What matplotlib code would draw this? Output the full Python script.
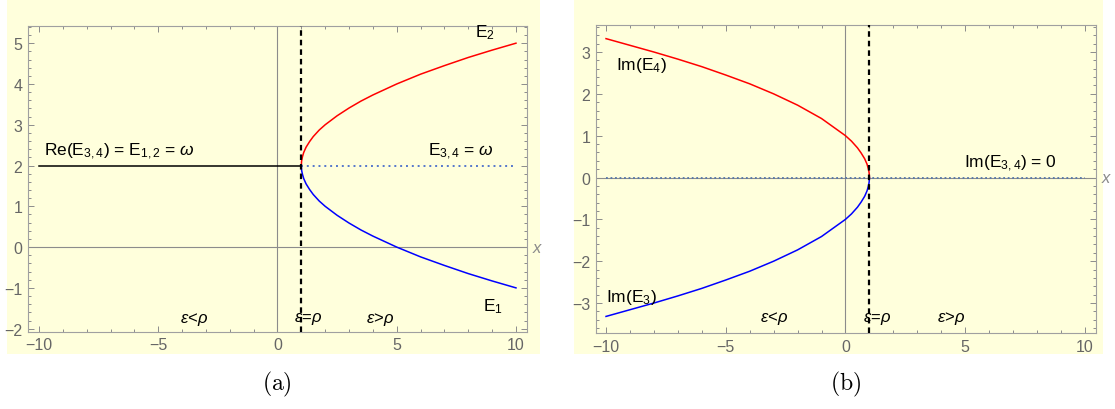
import numpy as np
import matplotlib.pyplot as plt
from matplotlib.patches import Rectangle
from matplotlib.ticker import MultipleLocator

plt.rcParams['font.family'] = ['Liberation Sans', 'DejaVu Sans']
plt.rcParams['mathtext.fontset'] = 'custom'
plt.rcParams['mathtext.rm'] = 'Liberation Sans'
plt.rcParams['mathtext.it'] = 'Liberation Sans:italic'
plt.rcParams['mathtext.fallback'] = 'cm'

x_left = [-10, 1]
re_left = [2, 2]
x_split = [1, 1.01, 1.02, 1.05, 1.1, 1.2, 1.35, 1.5, 1.75, 2, 2.5, 3, 3.5, 4, 5, 6, 7, 8, 9, 10]
e2 = [2, 2.10, 2.14, 2.22, 2.32, 2.45, 2.59, 2.71, 2.87, 3.0, 3.22, 3.41, 3.58, 3.73, 4.0, 4.24, 4.45, 4.65, 4.83, 5.0]
e1 = [2, 1.90, 1.86, 1.78, 1.68, 1.55, 1.41, 1.29, 1.13, 1.0, 0.78, 0.59, 0.42, 0.27, 0.0, -0.24, -0.45, -0.65, -0.83, -1.0]
x_dot_a = [1, 10]
e34 = [2, 2]

# panel (b): imaginary parts
x_im = [-10, -9, -8, -7, -6, -5, -4, -3, -2, -1, 0, 0.25, 0.5, 0.65, 0.8, 0.9, 0.95, 0.98, 0.99, 1]
im_e4 = [3.32, 3.16, 3.0, 2.83, 2.65, 2.45, 2.24, 2.0, 1.73, 1.41, 1.0, 0.87, 0.71, 0.59, 0.45, 0.32, 0.22, 0.14, 0.10, 0]
im_e3 = [-3.32, -3.16, -3.0, -2.83, -2.65, -2.45, -2.24, -2.0, -1.73, -1.41, -1.0, -0.87, -0.71, -0.59, -0.45, -0.32, -0.22, -0.14, -0.10, 0]
x_dot_b = [-10, 10]
im_e34 = [0, 0]

rho = 1

bg = '#ffffdc'
grey = '#8c8c8c'
lab = '#666666'

fig = plt.figure(figsize=(11.15, 4.10), dpi=100)
fig.patches.append(Rectangle((0.0063, 0.134), 0.478, 0.866, transform=fig.transFigure,
                             facecolor=bg, edgecolor='none', zorder=-1))
fig.patches.append(Rectangle((0.5148, 0.134), 0.4744, 0.866, transform=fig.transFigure,
                             facecolor=bg, edgecolor='none', zorder=-1))

axa = fig.add_axes([0.0251, 0.188, 0.4475, 0.746])
axb = fig.add_axes([0.5345, 0.185, 0.4484, 0.752])


def style(ax, xlim, ylim, ymin_step):
    ax.set_facecolor(bg)
    ax.set_xlim(xlim)
    ax.set_ylim(ylim)
    ax.xaxis.set_major_locator(MultipleLocator(5))
    ax.xaxis.set_minor_locator(MultipleLocator(1))
    ax.yaxis.set_major_locator(MultipleLocator(1))
    ax.yaxis.set_minor_locator(MultipleLocator(ymin_step))
    ax.tick_params(which='both', direction='in', top=True, right=True, color=grey, width=0.7)
    ax.tick_params(which='major', length=4, labelsize=11.5, labelcolor=lab, pad=4)
    ax.tick_params(which='minor', length=2)
    for s in ax.spines.values():
        s.set_color('#a0a0a0')
        s.set_linewidth(0.8)
    ax.axhline(0, color=grey, lw=0.8, zorder=1)
    ax.axvline(0, color=grey, lw=0.8, zorder=1)
    ax.text(xlim[1] + 0.2, 0, r'$x$', color=grey, fontsize=12, va='center',
            ha='left', clip_on=False)
    ax.axvline(rho, color='black', lw=1.6, ls=(0, (2.5, 1.8)), zorder=4)


style(axa, (-10.46, 10.46), (-2.08, 5.42), 0.2)
axa.plot(x_left, re_left, color='black', lw=1.1, zorder=3)
axa.plot(x_dot_a, e34, color='#5577cc', lw=1.4, ls=(0, (1, 2)), zorder=3)
axa.plot(x_split, e2, color='#ff0000', lw=1.1, zorder=3)
axa.plot(x_split, e1, color='#0000ff', lw=1.1, zorder=3)

axa.text(-9.8, 2.12, r'Re(E$_{3,4}$) = E$_{1,2}$ = $\omega$', fontsize=12.5, va='bottom')
axa.text(7.7, 2.12, r'E$_{3,4}$ = $\omega$', fontsize=12.5, va='bottom', ha='center')
axa.text(8.3, 5.05, r'E$_2$', fontsize=12.5, va='bottom')
axa.text(8.6, -1.2, r'E$_1$', fontsize=12.5, va='top')
axa.text(-3.5, -1.75, r'$\epsilon$<$\rho$', fontsize=12, ha='center', va='center')
axa.text(1.3, -1.75, r'$\epsilon$=$\rho$', fontsize=12, ha='center', va='center')
axa.text(4.3, -1.75, r'$\epsilon$>$\rho$', fontsize=12, ha='center', va='center')

style(axb, (-10.42, 10.46), (-3.72, 3.65), 0.2)
axb.plot(x_dot_b, im_e34, color='#5577aa', lw=1.3, ls=(0, (1, 1.5)), zorder=3)
axb.plot(x_im, im_e4, color='#ff0000', lw=1.1, zorder=3)
axb.plot(x_im, im_e3, color='#0000ff', lw=1.1, zorder=3)

axb.text(-9.6, 2.7, r'Im(E$_4$)', fontsize=12.5, va='center')
axb.text(-10.0, -2.85, r'Im(E$_3$)', fontsize=12.5, va='center')
axb.text(6.9, 0.12, r'Im(E$_{3,4}$) = 0', fontsize=12.5, va='bottom', ha='center')
axb.text(-3.0, -3.35, r'$\epsilon$<$\rho$', fontsize=12, ha='center', va='center')
axb.text(1.3, -3.35, r'$\epsilon$=$\rho$', fontsize=12, ha='center', va='center')
axb.text(4.4, -3.35, r'$\epsilon$>$\rho$', fontsize=12, ha='center', va='center')

fig.text(277 / 1115, 1 - 384 / 410, r'$\mathrm{(a)}$', fontsize=17, math_fontfamily='cm',
         ha='center', va='center')
fig.text(846 / 1115, 1 - 384 / 410, r'$\mathrm{(b)}$', fontsize=17, math_fontfamily='cm',
         ha='center', va='center')

fig.savefig('out.png', dpi=100)
